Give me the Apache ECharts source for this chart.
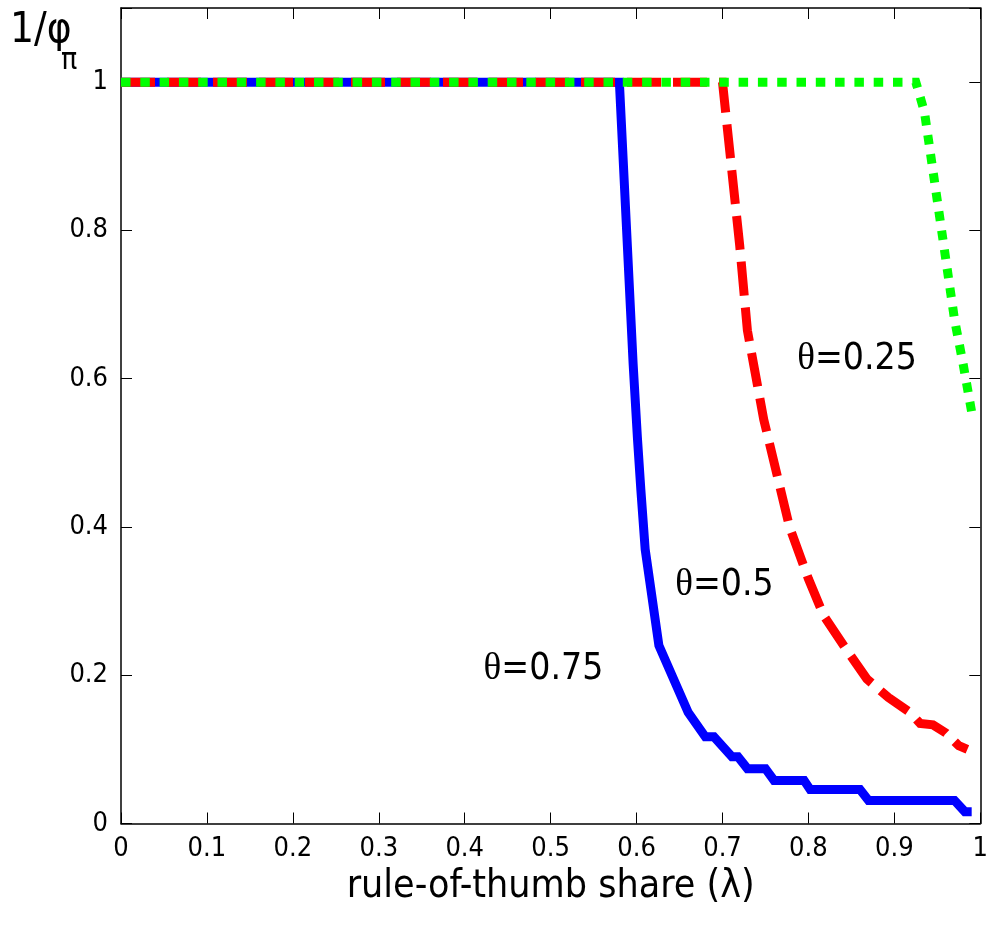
<!DOCTYPE html>
<html>
<head>
<meta charset="utf-8">
<script src="https://cdn.jsdelivr.net/npm/echarts@6/dist/echarts.min.js"></script>
<style>html,body{margin:0;padding:0;background:#fff}#c{width:991px;height:937px}</style>
</head>
<body>
<div id="c"></div>
<script>
// Tick labels
var xTicks = [0, 0.1, 0.2, 0.3, 0.4, 0.5, 0.6, 0.7, 0.8, 0.9, 1];
var yTicks = [0, 0.2, 0.4, 0.6, 0.8, 1];

// theta = 0.75 (blue, solid)
var lamBlue = [0, 0.58, 0.596, 0.601, 0.605, 0.61, 0.626, 0.66, 0.68, 0.69, 0.711, 0.718, 0.729, 0.75, 0.76, 0.795, 0.802, 0.86, 0.87, 0.97, 0.982, 0.99];
var phiBlue = [1, 1, 0.62, 0.52, 0.45, 0.37, 0.24, 0.15, 0.117, 0.117, 0.09, 0.09, 0.074, 0.074, 0.058, 0.058, 0.046, 0.046, 0.031, 0.031, 0.016, 0.016];

// theta = 0.5 (red, dashed)
var lamRed = [0, 0.70, 0.72, 0.729, 0.748, 0.778, 0.80, 0.818, 0.841, 0.868, 0.893, 0.918, 0.93, 0.945, 0.96, 0.975, 0.985];
var phiRed = [1, 1, 0.78, 0.665, 0.545, 0.40, 0.33, 0.28, 0.24, 0.195, 0.17, 0.15, 0.135, 0.133, 0.122, 0.105, 0.10];

// theta = 0.25 (green, dotted)
var lamGreen = [0, 0.925, 0.935, 0.955, 0.97, 0.98, 0.99];
var phiGreen = [1, 1, 0.96, 0.80, 0.68, 0.62, 0.555];

// annotations
var labelTexts = ['θ=0.25', 'θ=0.5', 'θ=0.75'];
var labelLam = [0.787, 0.645, 0.422];
var labelPhi = [0.625, 0.32, 0.207];

function zip(a, b) { return a.map(function (v, i) { return [v, b[i]]; }); }

var SANS = "'Liberation Sans Narrow', 'DejaVu Sans Condensed', 'Liberation Sans', Arial, sans-serif";
var SERIF = "'Liberation Serif', 'DejaVu Serif', serif";

var chart = echarts.init(document.getElementById('c'), null, {renderer: 'canvas'});

var axisCommon = {
  axisLine: {show: true, onZero: false, lineStyle: {color: '#000', width: 1.5}},
  axisTick: {show: true, inside: true, length: 11, lineStyle: {color: '#000', width: 1}},
  splitLine: {show: false}
};

var option = {
  animation: false,
  backgroundColor: '#fff',
  grid: {left: 121, right: 7, top: 8, bottom: 113.5, containLabel: false},
  xAxis: [
    Object.assign({}, axisCommon, {
      type: 'value', min: 0, max: 1, interval: 0.1, position: 'bottom',
      axisLabel: {color: '#000', fontFamily: SANS, fontSize: 27, margin: 12,
        formatter: function (v) { return String(Math.round(v * 10) / 10); }},
      name: 'rule-of-thumb share (λ)', nameLocation: 'middle', nameGap: 41,
      nameTextStyle: {color: '#000', fontFamily: SANS, fontSize: 39, verticalAlign: 'top'}
    }),
    Object.assign({}, axisCommon, {
      type: 'value', min: 0, max: 1, interval: 0.1, position: 'top',
      axisLabel: {show: false}
    })
  ],
  yAxis: [
    Object.assign({}, axisCommon, {
      type: 'value', min: 0, max: 1.1, interval: 0.2, position: 'left',
      axisLabel: {color: '#000', fontFamily: SANS, fontSize: 27, margin: 13,
        formatter: function (v) { return v > 1.05 ? '' : String(Math.round(v * 10) / 10); }}
    }),
    Object.assign({}, axisCommon, {
      type: 'value', min: 0, max: 1.1, interval: 0.2, position: 'right',
      axisLabel: {show: false}
    })
  ],
  series: [
    {type: 'line', name: 'θ=0.75', data: zip(lamBlue, phiBlue), showSymbol: false, symbol: 'none',
     lineStyle: {color: '#0000ff', width: 9, cap: 'butt', join: 'miter'}},
    {type: 'line', name: 'θ=0.5', data: zip(lamRed, phiRed), showSymbol: false, symbol: 'none',
     lineStyle: {color: '#ff0000', width: 9, type: [34, 12], cap: 'butt', join: 'miter'}},
    {type: 'line', name: 'θ=0.25', data: zip(lamGreen, phiGreen), showSymbol: false, symbol: 'none',
     lineStyle: {color: '#00ff00', width: 9, type: [9.5, 9.8], cap: 'butt', join: 'miter'}}
  ]
};
chart.setOption(option);

// annotations positioned in data coordinates
var g = [];
labelTexts.forEach(function (t, i) {
  var p = chart.convertToPixel({gridIndex: 0}, [labelLam[i], labelPhi[i]]);
  g.push({
    type: 'text', left: p[0], top: p[1] - 19,
    style: {
      text: '{t|θ}{n|' + t.slice(1) + '}',
      rich: {
        t: {fontFamily: SERIF, fontSize: 37, fill: '#000'},
        n: {fontFamily: SANS, fontSize: 37, fill: '#000'}
      }
    }
  });
});
// y-axis name: 1/φ with subscript π
g.push({type: 'text', left: 10, top: 10,
  style: {text: '1/φ', fontFamily: SANS, fontSize: 42, fill: '#000'}});
g.push({type: 'text', left: 61, top: 46,
  style: {text: 'π', fontFamily: SANS, fontSize: 30, fill: '#000'}});
chart.setOption({graphic: g});
</script>
</body>
</html>
